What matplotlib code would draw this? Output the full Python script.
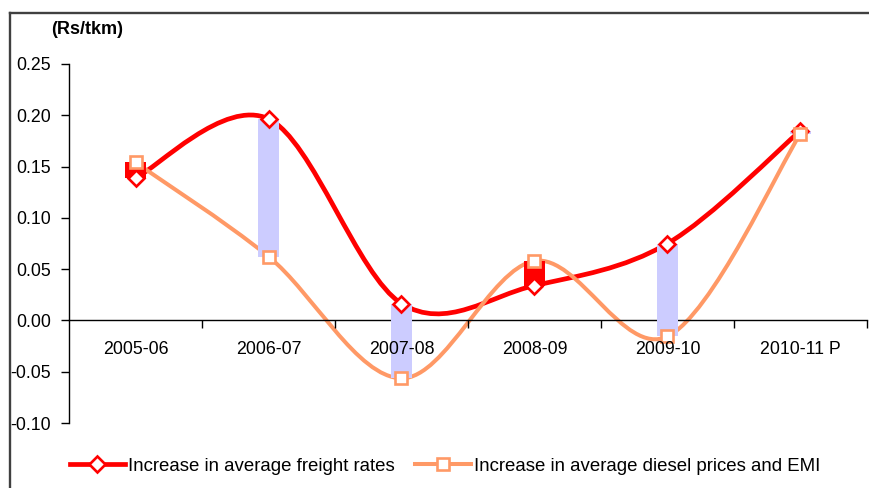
import matplotlib
matplotlib.use("Agg")
import matplotlib.pyplot as plt
from matplotlib.path import Path
from matplotlib.patches import PathPatch
from matplotlib.lines import Line2D

plt.rcParams['font.family'] = ['Liberation Sans', 'DejaVu Sans']

categories = ["2005-06", "2006-07", "2007-08", "2008-09", "2009-10", "2010-11 P"]
freight = [0.139, 0.1965, 0.0165, 0.034, 0.075, 0.185]
diesel = [0.154, 0.0623, -0.0564, 0.058, -0.0156, 0.182]
yticks = [-0.10, -0.05, 0.00, 0.05, 0.10, 0.15, 0.20, 0.25]
series_names = ["Increase in average freight rates",
                "Increase in average diesel prices and EMI"]

RED = "#FF0000"
ORANGE = "#FF9966"
LAV = "#CCCCFF"

W, H = 870, 488
fig = plt.figure(figsize=(W / 100, H / 100), dpi=100)
ax = fig.add_axes([69 / W, 1 - 423 / H, (867 - 69) / W, (423 - 64) / H])

x = list(range(len(categories)))


def smooth_path(xs, ys):
    n = len(xs)
    verts = [(xs[0], ys[0])]
    codes = [Path.MOVETO]
    for i in range(n - 1):
        p0 = i - 1 if i > 0 else i
        p3 = i + 2 if i + 2 < n else i + 1
        c1 = (xs[i] + (xs[i + 1] - xs[p0]) / 6, ys[i] + (ys[i + 1] - ys[p0]) / 6)
        c2 = (xs[i + 1] - (xs[p3] - xs[i]) / 6, ys[i + 1] - (ys[p3] - ys[i]) / 6)
        verts += [c1, c2, (xs[i + 1], ys[i + 1])]
        codes += [Path.CURVE4] * 3
    return Path(verts, codes)


RED_LW, OR_LW = 3.4, 2.9

ax.add_patch(PathPatch(smooth_path(x, freight), facecolor='none', edgecolor=RED,
                       lw=RED_LW, zorder=2, capstyle='round', joinstyle='round'))
ax.add_patch(PathPatch(smooth_path(x, diesel), facecolor='none', edgecolor=ORANGE,
                       lw=OR_LW, zorder=2.1, capstyle='round', joinstyle='round'))

# up/down bars
for xi, a, b in zip(x, freight, diesel):
    col = LAV if a >= b else RED
    lo, hi = min(a, b), max(a, b)
    ax.bar(xi, hi - lo, bottom=lo, width=0.165, color=col, zorder=3, linewidth=0)

ax.plot(x, freight, linestyle='none', marker='D', markersize=8.3, markerfacecolor='white',
        markeredgecolor=RED, markeredgewidth=1.9, zorder=5)
ax.plot(x, diesel, linestyle='none', marker='s', markersize=8.5, markerfacecolor='white',
        markeredgecolor=ORANGE, markeredgewidth=1.9, zorder=5)

ax.set_xlim(-0.5, len(categories) - 0.5)
ax.set_ylim(-0.10, 0.25)

for s in ['top', 'right']:
    ax.spines[s].set_visible(False)
ax.spines['bottom'].set_position(('data', 0))
ax.spines['bottom'].set_zorder(2.5)
ax.spines['left'].set_linewidth(1.0)
ax.spines['bottom'].set_linewidth(1.0)

ax.set_yticks(yticks)
ax.set_yticklabels([f"{v:.2f}" for v in yticks])
ax.tick_params(axis='y', direction='out', length=6, width=1, pad=7, labelsize=12.8)

ax.set_xticks([i + 0.5 for i in x[:-1]] + [x[-1] + 0.5])
ax.set_xticklabels([])
ax.set_xticks(x, minor=True)
ax.set_xticklabels(categories, minor=True)
ax.tick_params(axis='x', which='major', direction='out', length=6, width=1)
ax.tick_params(axis='x', which='minor', length=0, pad=15, labelsize=12.8)
ax.xaxis.set_zorder(6)

fig.text(51 / W, 1 - 30 / H, "(Rs/tkm)", fontsize=13, fontweight='bold',
         va='center', ha='left')

handles = [
    Line2D([], [], color=RED, lw=RED_LW, marker='D', markersize=8.3,
           markerfacecolor='white', markeredgecolor=RED, markeredgewidth=1.9),
    Line2D([], [], color=ORANGE, lw=OR_LW, marker='s', markersize=8.5,
           markerfacecolor='white', markeredgecolor=ORANGE, markeredgewidth=1.9),
]
fig.legend(handles, series_names, loc='center', bbox_to_anchor=(445 / W, 1 - 466 / H),
           ncol=2, frameon=False, fontsize=13.4, handlelength=3.0, handletextpad=0.15,
           columnspacing=1.1, borderaxespad=0, borderpad=0)

# outer frame (top and left edges)
fig.add_artist(Line2D([10 / W, 1.0], [1 - 13 / H, 1 - 13 / H], color='#404040', lw=1.7,
                      transform=fig.transFigure))
fig.add_artist(Line2D([10 / W, 10 / W], [0, 1 - 13 / H], color='#404040', lw=1.7,
                      transform=fig.transFigure))

fig.savefig("out.png", dpi=100)
